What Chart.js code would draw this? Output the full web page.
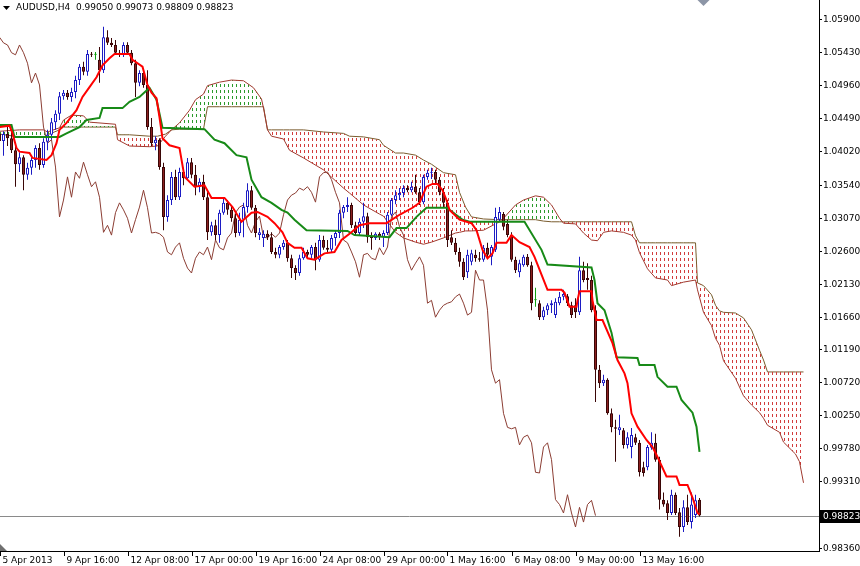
<!DOCTYPE html>
<html>
<head>
<meta charset="utf-8">
<script src="https://cdn.jsdelivr.net/npm/chart.js@4.4.1/dist/chart.umd.min.js"></script>
<style>
    html, body { margin: 0; padding: 0; background: #fff; }
    #wrap { width: 860px; height: 566px; }
</style>
</head>
<body>
<div id="wrap"><canvas id="chart" width="860" height="566"></canvas></div>
<script>
const symbol = 'AUDUSD,H4'

// H4 candles, bar 0 = 5 Apr 2013 00:00
const open = [
    1.0427, 1.0416, 1.0426, 1.0420, 1.0403, 1.0383, 1.0393, 1.0368, 1.0378, 1.0389,
    1.0406, 1.0382, 1.0415, 1.0425, 1.0443, 1.0455, 1.0480, 1.0485, 1.0479, 1.0486,
    1.0503, 1.0522, 1.0515, 1.0540, 1.0539, 1.0532, 1.0517, 1.0564, 1.0556, 1.0553,
    1.0542, 1.0539, 1.0553, 1.0542, 1.0527, 1.0499, 1.0513, 1.0496, 1.0436, 1.0413,
    1.0418, 1.0379, 1.0308, 1.0332, 1.0365, 1.0336, 1.0372, 1.0363, 1.0386, 1.0368,
    1.0351, 1.0358, 1.0336, 1.0286, 1.0296, 1.0282, 1.0314, 1.0328, 1.0318, 1.0306,
    1.0285, 1.0304, 1.0322, 1.0346, 1.0321, 1.0282, 1.0278, 1.0284, 1.0279, 1.0258,
    1.0254, 1.0265, 1.0271, 1.0249, 1.0235, 1.0228, 1.0249, 1.0258, 1.0254, 1.0265,
    1.0247, 1.0275, 1.0264, 1.0261, 1.0278, 1.0285, 1.0314, 1.0322, 1.0325, 1.0296,
    1.0285, 1.0301, 1.0309, 1.0279, 1.0278, 1.0284, 1.0279, 1.0285, 1.0311, 1.0332,
    1.0339, 1.0342, 1.0349, 1.0346, 1.0351, 1.0343, 1.0329, 1.0365, 1.0371, 1.0372,
    1.0361, 1.0343, 1.0328, 1.0279, 1.0271, 1.0258, 1.0244, 1.0229, 1.0244, 1.0254,
    1.0249, 1.0247, 1.0264, 1.0251, 1.0261, 1.0304, 1.0312, 1.0298, 1.0282, 1.0247,
    1.0229, 1.0239, 1.0251, 1.0239, 1.0189, 1.0185, 1.0165, 1.0175, 1.0182, 1.0168,
    1.0185, 1.0194, 1.0195, 1.0182, 1.0182, 1.0172, 1.0232, 1.0221, 1.0218, 1.0175,
    1.0090, 1.0071, 1.0076, 1.0028, 1.0008, 1.0004, 1.0004, 0.9983, 0.9980, 0.9994,
    0.9986, 0.9951, 0.9951, 0.9979, 0.9986, 0.9962, 0.9905, 0.9900, 0.9886, 0.9912,
    0.9887, 0.9866, 0.9894, 0.9873, 0.9883, 0.99050
]
const high = [
    1.0438, 1.0430, 1.0436, 1.0429, 1.0412, 1.0400, 1.0396, 1.0385, 1.0396, 1.0410,
    1.0413, 1.0420, 1.0432, 1.0449, 1.0460, 1.0486, 1.0489, 1.0489, 1.0492, 1.0509,
    1.0526, 1.0529, 1.0546, 1.0543, 1.0543, 1.0550, 1.0579, 1.0574, 1.0563, 1.0560,
    1.0546, 1.0557, 1.0557, 1.0546, 1.0532, 1.0517, 1.0520, 1.0517, 1.0449, 1.0423,
    1.0420, 1.0385, 1.0339, 1.0372, 1.0375, 1.0378, 1.0378, 1.0392, 1.0392, 1.0382,
    1.0363, 1.0368, 1.0343, 1.0301, 1.0304, 1.0318, 1.0335, 1.0332, 1.0325, 1.0312,
    1.0314, 1.0328, 1.0356, 1.0352, 1.0325, 1.0292, 1.0289, 1.0289, 1.0286, 1.0264,
    1.0268, 1.0275, 1.0275, 1.0254, 1.0239, 1.0254, 1.0264, 1.0261, 1.0268, 1.0271,
    1.0282, 1.0281, 1.0275, 1.0282, 1.0289, 1.0318, 1.0325, 1.0336, 1.0328, 1.0301,
    1.0306, 1.0328, 1.0314, 1.0286, 1.0286, 1.0286, 1.0289, 1.0315, 1.0335, 1.0346,
    1.0349, 1.0353, 1.0353, 1.0358, 1.0368, 1.0349, 1.0368, 1.0375, 1.0378, 1.0375,
    1.0365, 1.0349, 1.0332, 1.0289, 1.0278, 1.0264, 1.0249, 1.0261, 1.0261, 1.0261,
    1.0258, 1.0268, 1.0271, 1.0268, 1.0321, 1.0322, 1.0315, 1.0304, 1.0286, 1.0251,
    1.0247, 1.0254, 1.0255, 1.0244, 1.0207, 1.0189, 1.0180, 1.0185, 1.0189, 1.0192,
    1.0201, 1.0204, 1.0198, 1.0187, 1.0192, 1.0251, 1.0244, 1.0242, 1.0224, 1.0182,
    1.0097, 1.0083, 1.0078, 1.0035, 1.0019, 1.0026, 1.0007, 1.0001, 1.0007, 0.9999,
    0.9990, 0.9959, 0.9983, 1.0001, 0.9999, 0.9966, 0.9915, 0.9904, 0.9919, 0.9915,
    0.9893, 0.9904, 0.9912, 0.9915, 0.9912, 0.99073
]
const low = [
    1.0408, 1.0395, 1.0409, 1.0399, 1.0351, 1.0372, 1.0346, 1.0361, 1.0368, 1.0378,
    1.0375, 1.0378, 1.0403, 1.0418, 1.0432, 1.0446, 1.0475, 1.0475, 1.0472, 1.0477,
    1.0496, 1.0510, 1.0509, 1.0536, 1.0532, 1.0499, 1.0513, 1.0553, 1.0550, 1.0539,
    1.0536, 1.0536, 1.0539, 1.0524, 1.0479, 1.0494, 1.0492, 1.0432, 1.0409, 1.0403,
    1.0375, 1.0289, 1.0301, 1.0325, 1.0332, 1.0332, 1.0353, 1.0361, 1.0363, 1.0339,
    1.0343, 1.0332, 1.0275, 1.0281, 1.0275, 1.0271, 1.0311, 1.0311, 1.0301, 1.0279,
    1.0281, 1.0279, 1.0314, 1.0318, 1.0279, 1.0275, 1.0265, 1.0275, 1.0255, 1.0249,
    1.0249, 1.0261, 1.0244, 1.0221, 1.0218, 1.0224, 1.0247, 1.0249, 1.0249, 1.0232,
    1.0244, 1.0261, 1.0258, 1.0258, 1.0267, 1.0278, 1.0306, 1.0315, 1.0292, 1.0281,
    1.0282, 1.0292, 1.0271, 1.0261, 1.0275, 1.0275, 1.0265, 1.0282, 1.0309, 1.0326,
    1.0332, 1.0336, 1.0343, 1.0343, 1.0341, 1.0325, 1.0326, 1.0361, 1.0362, 1.0356,
    1.0339, 1.0322, 1.0265, 1.0268, 1.0254, 1.0237, 1.0218, 1.0221, 1.0239, 1.0244,
    1.0244, 1.0244, 1.0249, 1.0239, 1.0258, 1.0301, 1.0289, 1.0279, 1.0244, 1.0228,
    1.0222, 1.0237, 1.0237, 1.0175, 1.0180, 1.0161, 1.0161, 1.0168, 1.0171, 1.0164,
    1.0182, 1.0189, 1.0181, 1.0164, 1.0164, 1.0168, 1.0215, 1.0204, 1.0172, 1.0044,
    1.0064, 1.0067, 1.0026, 1.0001, 0.9959, 0.9997, 0.9978, 0.9978, 0.9964, 0.9983,
    0.9938, 0.9938, 0.9947, 0.9976, 0.9959, 0.9891, 0.9895, 0.9876, 0.9883, 0.9883,
    0.9852, 0.9859, 0.9869, 0.9864, 0.9879, 0.98809
]
const close = [
    1.0416, 1.0426, 1.0420, 1.0403, 1.0383, 1.0393, 1.0368, 1.0378, 1.0389, 1.0406,
    1.0382, 1.0415, 1.0425, 1.0443, 1.0455, 1.0480, 1.0485, 1.0479, 1.0486, 1.0503,
    1.0522, 1.0515, 1.0540, 1.0539, 1.0539, 1.0517, 1.0564, 1.0556, 1.0553, 1.0542,
    1.0539, 1.0553, 1.0542, 1.0527, 1.0499, 1.0513, 1.0496, 1.0436, 1.0413, 1.0418,
    1.0379, 1.0308, 1.0332, 1.0365, 1.0336, 1.0372, 1.0363, 1.0386, 1.0368, 1.0351,
    1.0358, 1.0336, 1.0286, 1.0296, 1.0282, 1.0314, 1.0328, 1.0318, 1.0306, 1.0285,
    1.0304, 1.0322, 1.0346, 1.0321, 1.0285, 1.0286, 1.0284, 1.0279, 1.0258, 1.0254,
    1.0265, 1.0271, 1.0249, 1.0235, 1.0228, 1.0249, 1.0258, 1.0254, 1.0265, 1.0247,
    1.0275, 1.0264, 1.0261, 1.0278, 1.0285, 1.0314, 1.0322, 1.0325, 1.0296, 1.0285,
    1.0301, 1.0309, 1.0279, 1.0278, 1.0284, 1.0279, 1.0285, 1.0311, 1.0332, 1.0339,
    1.0342, 1.0349, 1.0346, 1.0351, 1.0343, 1.0329, 1.0365, 1.0371, 1.0372, 1.0361,
    1.0343, 1.0328, 1.0275, 1.0271, 1.0258, 1.0244, 1.0222, 1.0254, 1.0256, 1.0249,
    1.0247, 1.0264, 1.0254, 1.0265, 1.0308, 1.0315, 1.0294, 1.0282, 1.0247, 1.0232,
    1.0242, 1.0251, 1.0239, 1.0185, 1.0189, 1.0165, 1.0175, 1.0182, 1.0185, 1.0187,
    1.0194, 1.0198, 1.0185, 1.0168, 1.0172, 1.0232, 1.0218, 1.0218, 1.0175, 1.0090,
    1.0071, 1.0076, 1.0028, 1.0008, 1.0006, 1.0008, 0.9983, 0.9994, 0.9997, 0.9986,
    0.9944, 0.9943, 0.9980, 0.9986, 0.9962, 0.9905, 0.9898, 0.9886, 0.9912, 0.9886,
    0.9866, 0.9894, 0.9873, 0.9898, 0.9904, 0.98823
]

// Tenkan-sen (red), bar position / price
const tenkanBar = [0, 2.5, 3.25, 4.25, 5, 7.5, 8.25, 11.75, 13, 14.25, 15, 16.75, 19.25, 20.75, 22.5, 24.25, 25.75, 27.5, 28.75, 32.5,
    33.25, 35.75, 37, 38, 39.25, 40, 40.75, 42.5, 45, 46.25, 48.75, 51.25, 53, 56.25, 58.25, 60.5, 63, 64.5, 67, 68.75,
    70.75, 72, 73.75, 75.5, 77, 78.75, 81.25, 83.75, 85.5, 88, 90, 92.5, 96.75, 100, 103.25, 105, 106.75, 108.25, 109.5, 110.75,
    111.75, 112.5, 115, 118, 119.25, 120.75, 122, 123.25, 124.25, 126.75, 128, 130, 132.5, 133.75, 135.75, 137, 140.5, 141.25, 142.5, 144.25,
    144.5, 145, 148, 148.25, 149.25, 150.75, 153.25, 154.5, 156.25, 157, 158, 159.5, 161.75, 163.25, 164.5, 166.75, 169.25, 170, 172, 173.25,
    174.5, 175]
const tenkanVal = [1.0436, 1.0438, 1.0427, 1.0406, 1.0401, 1.0399, 1.0392, 1.0389, 1.0396, 1.0413, 1.0432, 1.0442, 1.0460, 1.0479, 1.0493, 1.0507, 1.0524, 1.0534, 1.0540, 1.0540,
    1.0532, 1.0522, 1.0496, 1.0485, 1.0477, 1.0450, 1.0420, 1.0410, 1.0406, 1.0365, 1.0351, 1.0353, 1.0335, 1.0335, 1.0322, 1.0301, 1.0314, 1.0315, 1.0308, 1.0299,
    1.0286, 1.0271, 1.0264, 1.0264, 1.0249, 1.0247, 1.0256, 1.0258, 1.0275, 1.0286, 1.0296, 1.0299, 1.0299, 1.0311, 1.0321, 1.0328, 1.0351, 1.0355, 1.0355, 1.0346,
    1.0332, 1.0318, 1.0304, 1.0299, 1.0289, 1.0261, 1.0249, 1.0256, 1.0271, 1.0271, 1.0282, 1.0272, 1.0265, 1.0251, 1.0222, 1.0204, 1.0204, 1.0200, 1.0180, 1.0180,
    1.0189, 1.0202, 1.0202, 1.0189, 1.0161, 1.0161, 1.0128, 1.0104, 1.0085, 1.0071, 1.0028, 1.0009, 0.9990, 0.9980, 0.9966, 0.9938, 0.9938, 0.9926, 0.9926, 0.9908,
    0.9886, 0.9884]

// Kijun-sen (green)
const kijunBar = [0, 3, 3.75, 15, 16.75, 20, 21.75, 25, 25.75, 30.75, 32.5, 35, 37.5, 39.25, 40.75, 51.25, 53.75, 56.25, 59.25, 61.75,
    63, 65.5, 68, 70.5, 72, 73.75, 76.75, 87, 88.75, 97.5, 99.25, 101.75, 104.25, 106.75, 111.75, 113.25, 115.75, 117.5, 131.25, 135.5,
    137, 148, 148.75, 149.5, 151.25, 153, 154.25, 159.5, 160, 163.75, 164.5, 167, 169.25, 170.5, 173.25, 174.25, 175]
const kijunVal = [1.0439, 1.0439, 1.0422, 1.0422, 1.0427, 1.0436, 1.0446, 1.0449, 1.0463, 1.0463, 1.0472, 1.0479, 1.0492, 1.0475, 1.0435, 1.0433, 1.0418, 1.0413, 1.0396, 1.0393,
    1.0361, 1.0336, 1.0328, 1.0318, 1.0314, 1.0304, 1.0289, 1.0288, 1.0282, 1.0279, 1.0292, 1.0292, 1.0308, 1.0321, 1.0321, 1.0315, 1.0304, 1.0301, 1.0301, 1.0261,
    1.0240, 1.0236, 1.0218, 1.0185, 1.0175, 1.0143, 1.0108, 1.0107, 1.0097, 1.0097, 1.0080, 1.0066, 1.0066, 1.0047, 1.0029, 1.0009, 0.9973]

// Senkou span A / B (the cloud), same bar positions for both
const spanBar = [0, 5, 11, 12, 15, 16, 18, 21, 22.5, 29, 29.5, 32.5, 37.5, 39.5, 41.5, 43, 45, 47.5, 49, 51,
    52, 55, 58, 61, 63.5, 65.5, 66, 67, 68, 71, 72.5, 76, 81, 86, 87.5, 91, 95, 96, 99, 101,
    104, 106, 108, 111, 114, 115, 116.5, 118, 121, 125, 126, 129, 131, 134, 136, 138, 140, 141, 144, 146,
    148, 149.5, 151, 153, 156, 158, 159, 160, 162, 164, 167, 168, 171, 174, 174.5, 176, 178, 179, 180, 181,
    184, 186, 188, 190, 191, 192, 195, 196, 199, 200, 201]
const spanA = [1.0430, 1.0432, 1.0432, 1.0429, 1.0435, 1.0446, 1.0453, 1.0452, 1.0443, 1.0440,
    1.0418, 1.0409, 1.0408, 1.0409, 1.0423, 1.0432, 1.0442, 1.0460, 1.0475, 1.0483,
    1.0495, 1.0500, 1.0503, 1.0502, 1.0492, 1.0476, 1.0463, 1.0432, 1.0423, 1.0419,
    1.0403, 1.0392, 1.0375, 1.0349, 1.0342, 1.0325, 1.0312, 1.0309, 1.0286, 1.0278,
    1.0272, 1.0269, 1.0272, 1.0278, 1.0285, 1.0286, 1.0288, 1.0288, 1.0289, 1.0301,
    1.0306, 1.0325, 1.0332, 1.0338, 1.0336, 1.0325, 1.0306, 1.0299, 1.0298, 1.0285,
    1.0275, 1.0274, 1.0286, 1.0288, 1.0286, 1.0282, 1.0275, 1.0257, 1.0234, 1.0221,
    1.0218, 1.0210, 1.0215, 1.0218, 1.0204, 1.0172, 1.0153, 1.0135, 1.0125, 1.0103,
    1.0078, 1.0053, 1.0040, 1.0029, 1.0021, 1.0011, 1.0001, 0.9987, 0.9970, 0.9959,
    0.9929]
const spanB = [1.0426, 1.0422, 1.0422, 1.0425, 1.0432, 1.0436, 1.0436, 1.0436, 1.0436, 1.0436,
    1.0425, 1.0425, 1.0423, 1.0423, 1.0426, 1.0432, 1.0433, 1.0433, 1.0433, 1.0433,
    1.0465, 1.0465, 1.0465, 1.0465, 1.0465, 1.0465, 1.0465, 1.0432, 1.0432, 1.0432,
    1.0432, 1.0432, 1.0429, 1.0427, 1.0423, 1.0422, 1.0418, 1.0410, 1.0399, 1.0399,
    1.0396, 1.0389, 1.0383, 1.0371, 1.0368, 1.0343, 1.0322, 1.0308, 1.0305, 1.0304,
    1.0304, 1.0304, 1.0304, 1.0304, 1.0302, 1.0301, 1.0301, 1.0301, 1.0301, 1.0301,
    1.0301, 1.0301, 1.0301, 1.0301, 1.0301, 1.0301, 1.0281, 1.0271, 1.0271, 1.0271,
    1.0271, 1.0271, 1.0271, 1.0271, 1.0214, 1.0210, 1.0197, 1.0182, 1.0174, 1.0172,
    1.0171, 1.0164, 1.0147, 1.0118, 1.0104, 1.0087, 1.0087, 1.0087, 1.0087, 1.0087,
    1.0087]

const chikouShift = 26

const dateTicks = [0, 16, 32, 48, 64, 80, 96, 112, 128, 144, 160]
const dateLabels = ['5 Apr 2013', '9 Apr 16:00', '12 Apr 08:00', '17 Apr 00:00', '19 Apr 16:00',
    '24 Apr 08:00', '29 Apr 00:00', '1 May 16:00', '6 May 08:00', '9 May 00:00', '13 May 16:00']
const priceTicks = [1.0590, 1.0543, 1.0496, 1.0449, 1.0402, 1.0354, 1.0307, 1.0260, 1.0213,
    1.0166, 1.0119, 1.0072, 1.0025, 0.9978, 0.9931, 0.9836]

const BULL = '#1c1cc4'
const BEAR_FILL = '#8b2020'
const BEAR_EDGE = '#3a0606'
const DOJI = '#10a010'
const FONT = '9px "DejaVu Sans"'

const canvas = document.getElementById('chart')
const ctx0 = canvas.getContext('2d')

function hatch(color) {
    const c = document.createElement('canvas')
    c.width = 4
    c.height = 6
    const g = c.getContext('2d')
    g.fillStyle = color
    g.fillRect(0, 0, 1, 3)
    return ctx0.createPattern(c, 'repeat')
}

function points(xs, ys) {
    return xs.map((x, i) => ({ x: x, y: ys[i] }))
}

const kind = close.map((c, i) => (c === open[i] ? 'doji' : c > open[i] ? 'up' : 'down'))
const bodies = open.map((o, i) => ({ x: i, y: [o, close[i]] }))
const wicks = open.map((o, i) => ({ x: i, y: [low[i], high[i]] }))
const chikou = close.slice(chikouShift).map((c, k) => ({ x: k, y: c }))

const frame = {
    id: 'frame',
    beforeDatasetsDraw(chart) {
        const { ctx, chartArea, scales } = chart
        const py = Math.round(scales.y.getPixelForValue(close[close.length - 1])) + 0.5
        ctx.save()
        ctx.strokeStyle = '#8a8a8a'
        ctx.lineWidth = 1
        ctx.beginPath()
        ctx.moveTo(chartArea.left, py)
        ctx.lineTo(chartArea.right, py)
        ctx.stroke()
        ctx.restore()
    },
    afterDraw(chart) {
        const { ctx, chartArea, scales } = chart
        const xs = scales.x
        const ys = scales.y
        ctx.save()
        ctx.font = FONT
        ctx.textBaseline = 'middle'
        ctx.textAlign = 'left'
        ctx.fillStyle = '#000'
        ctx.strokeStyle = '#000'
        ctx.lineWidth = 1

        for (const v of priceTicks) {
            const py = Math.round(ys.getPixelForValue(v)) + 0.5
            ctx.beginPath()
            ctx.moveTo(chartArea.right, py)
            ctx.lineTo(chartArea.right + 3, py)
            ctx.stroke()
            ctx.fillText(v.toFixed(5), chartArea.right + 4, py)
        }

        dateTicks.forEach((b, k) => {
            const px = Math.round(xs.getPixelForValue(b)) + 0.5
            ctx.beginPath()
            ctx.moveTo(px, chartArea.bottom)
            ctx.lineTo(px, chartArea.bottom + 5)
            ctx.stroke()
            ctx.fillText(dateLabels[k], px + 2, chartArea.bottom + 10)
        })

        // last price box
        const last = close[close.length - 1]
        const lp = Math.round(ys.getPixelForValue(last))
        ctx.fillStyle = '#000'
        ctx.fillRect(chartArea.right + 1, lp - 6, chart.width - chartArea.right - 1, 13)
        ctx.fillStyle = '#fff'
        ctx.fillText(last.toFixed(5), chartArea.right + 4, lp + 0.5)

        // header
        ctx.fillStyle = '#000'
        ctx.beginPath()
        ctx.moveTo(3, 6)
        ctx.lineTo(10, 6)
        ctx.lineTo(6.5, 10)
        ctx.closePath()
        ctx.fill()
        const n = close.length - 1
        const ohlc = [open[n], high[n], low[n], close[n]].map((v) => v.toFixed(5)).join(' ')
        ctx.fillText(symbol + '  ' + ohlc, 16, 8)

        // chart shift marker and corner mark
        const sx = xs.getPixelForValue(close.length)
        ctx.fillStyle = '#8c95a6'
        ctx.beginPath()
        ctx.moveTo(sx - 6, 0)
        ctx.lineTo(sx + 6, 0)
        ctx.lineTo(sx, 6)
        ctx.closePath()
        ctx.fill()
        ctx.fillStyle = '#707070'
        ctx.beginPath()
        ctx.moveTo(0, chartArea.bottom - 7)
        ctx.lineTo(7, chartArea.bottom)
        ctx.lineTo(0, chartArea.bottom)
        ctx.closePath()
        ctx.fill()
        ctx.restore()
    },
}

new Chart(canvas, {
    type: 'bar',
    data: {
        datasets: [
            {
                type: 'line',
                label: 'Senkou Span B',
                data: points(spanBar, spanB),
                borderColor: '#7a5c2e',
                borderWidth: 1,
                pointRadius: 0,
                tension: 0,
                fill: false,
                order: 10,
            },
            {
                type: 'line',
                label: 'Senkou Span A',
                data: points(spanBar, spanA),
                borderColor: '#a0392e',
                borderWidth: 1,
                pointRadius: 0,
                tension: 0,
                fill: { target: 0, above: hatch('#2a9a2a'), below: hatch('#d23c3c') },
                order: 9,
            },
            {
                type: 'line',
                label: 'Chikou Span',
                data: chikou,
                borderColor: '#8b3d33',
                borderWidth: 1,
                pointRadius: 0,
                tension: 0,
                fill: false,
                order: 8,
            },
            {
                label: 'wicks',
                data: wicks,
                barThickness: 1,
                grouped: false,
                inflateAmount: 0,
                borderWidth: 0,
                backgroundColor: kind.map((k) => (k === 'doji' ? DOJI : k === 'up' ? BULL : BEAR_EDGE)),
                order: 6,
            },
            {
                label: 'bodies',
                data: bodies,
                barThickness: 3,
                grouped: false,
                inflateAmount: 0,
                minBarLength: 1,
                borderWidth: 1,
                borderSkipped: false,
                backgroundColor: kind.map((k) => (k === 'doji' ? DOJI : k === 'up' ? '#ffffff' : BEAR_FILL)),
                borderColor: kind.map((k) => (k === 'doji' ? DOJI : k === 'up' ? BULL : BEAR_EDGE)),
                order: 5,
            },
            {
                type: 'line',
                label: 'Kijun-sen',
                data: points(kijunBar, kijunVal),
                borderColor: '#178a17',
                borderWidth: 2,
                pointRadius: 0,
                tension: 0,
                fill: false,
                order: 2,
            },
            {
                type: 'line',
                label: 'Tenkan-sen',
                data: points(tenkanBar, tenkanVal),
                borderColor: '#ff0000',
                borderWidth: 2,
                pointRadius: 0,
                tension: 0,
                fill: false,
                order: 1,
            },
        ],
    },
    options: {
        responsive: false,
        animation: false,
        events: [],
        layout: { padding: 0 },
        plugins: {
            legend: { display: false },
            tooltip: { enabled: false },
        },
        scales: {
            x: {
                type: 'linear',
                min: 0.125,
                max: 204.875,
                offset: false,
                grid: { display: false },
                ticks: { display: false },
                border: { display: true, color: '#000', width: 1 },
                afterFit: (s) => { s.height = 15 },
            },
            y: {
                type: 'linear',
                position: 'right',
                min: 0.98318,
                max: 1.06171,
                grid: { display: false },
                ticks: { display: false },
                border: { display: true, color: '#000', width: 1 },
                afterFit: (s) => { s.width = 41 },
            },
        },
    },
    plugins: [frame],
})
</script>
</body>
</html>
